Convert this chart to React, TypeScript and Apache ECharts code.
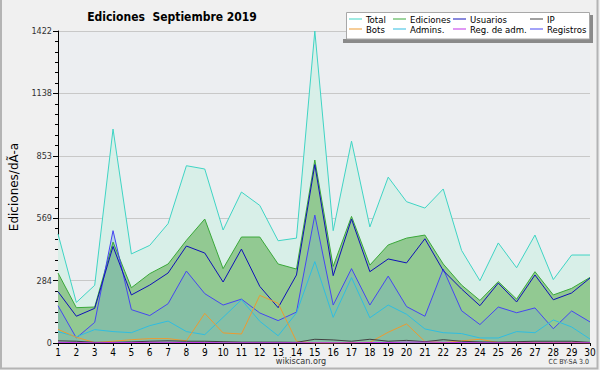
import React, { useEffect, useRef } from "react";
import * as echarts from "echarts";

const days = ["1","2","3","4","5","6","7","8","9","10","11","12","13","14","15","16","17","18","19","20","21","22","23","24","25","26","27","28","29","30"];
const total = [497,185,263,975,406,445,544,808,793,515,688,627,466,478,1422,512,920,529,756,644,615,702,422,284,456,343,492,289,401,401];
const ediciones = [319,161,164,460,252,316,360,468,565,339,483,483,360,337,834,349,577,355,447,478,492,360,264,194,280,200,325,219,249,299];
const usuarios = [234,122,158,440,219,264,319,442,410,278,428,258,161,310,813,307,565,325,383,365,475,330,246,170,273,187,310,197,228,296];
const ip = [10,8,3,3,5,8,10,8,8,6,4,4,4,3,17,14,8,17,8,12,6,15,8,5,4,6,8,8,8,3];
const bots = [62,26,2,8,15,20,20,10,135,46,41,217,181,8,0,0,2,3,49,87,7,2,10,17,2,2,2,2,2,0];
const admins = [52,28,61,52,47,79,100,52,38,117,197,99,33,137,371,117,298,115,173,131,64,47,43,23,23,52,47,105,73,18];
const regAdm = [3,2,1,2,2,3,3,2,2,1,1,1,1,1,1,1,1,2,2,4,4,3,2,1,1,1,1,1,1,1];
const registros = [170,23,94,512,152,125,179,328,225,173,200,137,102,141,583,173,339,173,305,166,122,337,147,84,164,138,160,65,146,96];

const yMax = 1422;
const FONT = "'DejaVu Sans Condensed', 'DejaVu Sans', sans-serif";

export default function App() {
  const ref = useRef<HTMLDivElement>(null);
  useEffect(() => {
    if (!ref.current) return;
    const chart = echarts.init(ref.current, undefined, { renderer: "svg" });
    const line = (name: string, data: number[], color: string, area?: string) => ({
      name,
      type: "line",
      data,
      symbol: "none",
      lineStyle: { color, width: 1 },
      itemStyle: { color },
      areaStyle: area ? { color: area, opacity: 1 } : undefined,
    });
    const legendBase = {
      orient: "vertical",
      icon: "rect",
      itemWidth: 13,
      itemHeight: 1,
      itemGap: 0,
      padding: 0,
      top: 14,
      z: 10,
      textStyle: { fontFamily: FONT, fontSize: 9.5, color: "#000", lineHeight: 10, padding: [0, 0, 0, -1] },
    };
    chart.setOption({
      animation: false,
      backgroundColor: "#f0f0f0",
      title: {
        text: "Ediciones  Septiembre 2019",
        left: 167,
        top: 6,
        textAlign: "center",
        textStyle: { fontFamily: FONT, fontSize: 12, fontWeight: "bold", color: "#000" },
      },
      legend: [
        { ...legendBase, left: 349, data: ["Total", "Bots"] },
        { ...legendBase, left: 393, data: ["Ediciones", "Admins."] },
        { ...legendBase, left: 453, data: ["Usuarios", "Reg. de adm."] },
        { ...legendBase, left: 530, data: ["IP", "Registros"] },
      ],
      grid: {
        left: 46.5,
        right: 10,
        top: 31,
        bottom: 27,
        show: true,
        backgroundColor: "#eceef1",
        borderWidth: 0,
      },
      xAxis: {
        type: "category",
        data: days,
        boundaryGap: false,
        axisLine: { lineStyle: { color: "#000", width: 1 } },
        axisTick: { show: true, length: 3, lineStyle: { color: "#000" }, alignWithLabel: true },
        axisLabel: { fontFamily: FONT, fontSize: 10, color: "#000", margin: 4, interval: 0 },
        splitLine: { show: false },
      },
      yAxis: {
        type: "value",
        min: 0,
        max: yMax,
        interval: yMax / 5,
        name: "Ediciones/dÃ-a",
        nameLocation: "middle",
        nameRotate: 90,
        nameGap: 38,
        nameTextStyle: { fontFamily: "'DejaVu Sans', sans-serif", fontSize: 12, color: "#000" },
        axisLine: { show: true, lineStyle: { color: "#000", width: 1 } },
        axisTick: { show: true, length: 5, lineStyle: { color: "#000" } },
        minorTick: { show: true, splitNumber: 6, length: 3, lineStyle: { color: "#000" } },
        axisLabel: {
          fontFamily: FONT,
          fontSize: 9,
          color: "#333",
          margin: 6,
          formatter: (v: number) => String(Math.round(v)),
        },
        splitLine: { show: true, lineStyle: { color: "#c8c8c8", width: 1 } },
      },
      series: [
        line("Total", total, "#3fd4c4", "#d8efe8"),
        line("Ediciones", ediciones, "#3aa83a", "#92c992"),
        line("Registros", registros, "#4646f2", "rgba(107,168,209,0.3)"),
        line("Usuarios", usuarios, "#1010b8"),
        line("Admins.", admins, "#30bde0"),
        line("Bots", bots, "#ec9a30"),
        line("IP", ip, "#404040"),
        line("Reg. de adm.", regAdm, "#c030e8"),
      ],
      graphic: [
        { type: "rect", z: 5, shape: { x: 343, y: 39, width: 250, height: 4 }, style: { fill: "#8a8a8a" } },
        { type: "rect", z: 5, shape: { x: 590, y: 15, width: 3, height: 28 }, style: { fill: "#8a8a8a" } },
        { type: "rect", z: 6, shape: { x: 346.5, y: 12.5, width: 243, height: 26.5 }, style: { fill: "#ffffff", stroke: "#a8a8a8", lineWidth: 1 } },
        { type: "text", z: 6, x: 301, y: 361, style: { text: "wikiscan.org", fontFamily: FONT, fontSize: 9, fill: "#333", align: "center", verticalAlign: "middle" } },
        { type: "text", z: 6, x: 589, y: 362, style: { text: "CC BY-SA 3.0", fontFamily: FONT, fontSize: 7, fill: "#333", align: "right", verticalAlign: "middle" } },
        { type: "polyline", z: 6, shape: { points: [[1, 0], [1, 368.5], [597.5, 368.5], [597.5, 0]] }, style: { stroke: "#b4b4b4", lineWidth: 2, fill: "none" } },
      ],
    });
    return () => chart.dispose();
  }, []);
  return (
    <div style={{ position: "fixed", left: 0, top: 0, width: 600, height: 370 }}>
      <div ref={ref} style={{ width: 600, height: 370 }} />
    </div>
  );
}
